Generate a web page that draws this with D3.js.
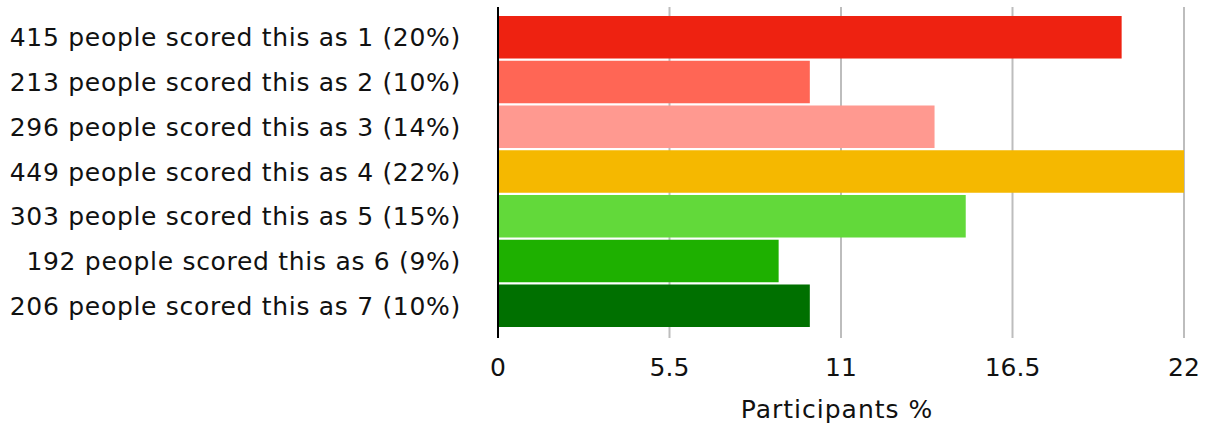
<!DOCTYPE html>
<html>
<head>
<meta charset="utf-8">
<script src="https://cdn.jsdelivr.net/npm/d3@7"></script>
<style>
  body { margin: 0; background: #fff; }
  text { font-family: "DejaVu Sans", sans-serif; fill: #111; font-size: 25px; letter-spacing: 0.7px; }
</style>
</head>
<body>
<script>
// scores 1..7, counts and rounded percentages as shown on the chart
let labels = [
  "415 people scored this as 1 (20%)",
  "213 people scored this as 2 (10%)",
  "296 people scored this as 3 (14%)",
  "449 people scored this as 4 (22%)",
  "303 people scored this as 5 (15%)",
  "192 people scored this as 6 (9%)",
  "206 people scored this as 7 (10%)"
];
let percents = [20, 10, 14, 22, 15, 9, 10];
let colors = ["#ee2211", "#ff6655", "#ff9990", "#f5b800", "#62d93a", "#1eb000", "#007000"];
let ticks = [0, 5.5, 11, 16.5, 22];

let width = 1209, height = 425;
let margin = {top: 16, right: 25, bottom: 98, left: 498};

let svg = d3.select("body").append("svg")
  .attr("width", width)
  .attr("height", height);

let x = d3.scaleLinear().domain([0, 22]).range([margin.left, width - margin.right]);
let y = d3.scaleBand().domain(labels).range([margin.top, height - margin.bottom]).paddingInner(0.05);

// vertical grid lines
svg.append("g")
  .selectAll("line")
  .data(ticks.slice(1))
  .enter()
  .append("line")
  .attr("x1", d => x(d))
  .attr("x2", d => x(d))
  .attr("y1", 7)
  .attr("y2", 338)
  .attr("stroke", "#bdbdbd")
  .attr("stroke-width", 2);

// bars
svg.append("g")
  .selectAll("rect")
  .data(percents)
  .enter()
  .append("rect")
  .attr("x", x(0))
  .attr("y", (d, i) => y(labels[i]))
  .attr("width", d => x(d) - x(0))
  .attr("height", y.bandwidth())
  .attr("fill", (d, i) => colors[i]);

// zero axis line
svg.append("line")
  .attr("x1", x(0))
  .attr("x2", x(0))
  .attr("y1", 7)
  .attr("y2", 338)
  .attr("stroke", "#000")
  .attr("stroke-width", 2);

// category labels
svg.append("g")
  .selectAll("text")
  .data(labels)
  .enter()
  .append("text")
  .attr("x", 461)
  .attr("y", d => y(d) + y.bandwidth() / 2)
  .attr("dy", "0.36em")
  .attr("text-anchor", "end")
  .text(d => d);

// tick labels
svg.append("g")
  .selectAll("text")
  .data(ticks)
  .enter()
  .append("text")
  .attr("x", d => x(d))
  .attr("y", 376)
  .attr("text-anchor", "middle")
  .style("letter-spacing", "0px")
  .text(d => d);

// axis title
svg.append("text")
  .attr("x", x(11) - 4)
  .attr("y", 418)
  .attr("text-anchor", "middle")
  .style("letter-spacing", "1px")
  .text("Participants %");
</script>
</body>
</html>
